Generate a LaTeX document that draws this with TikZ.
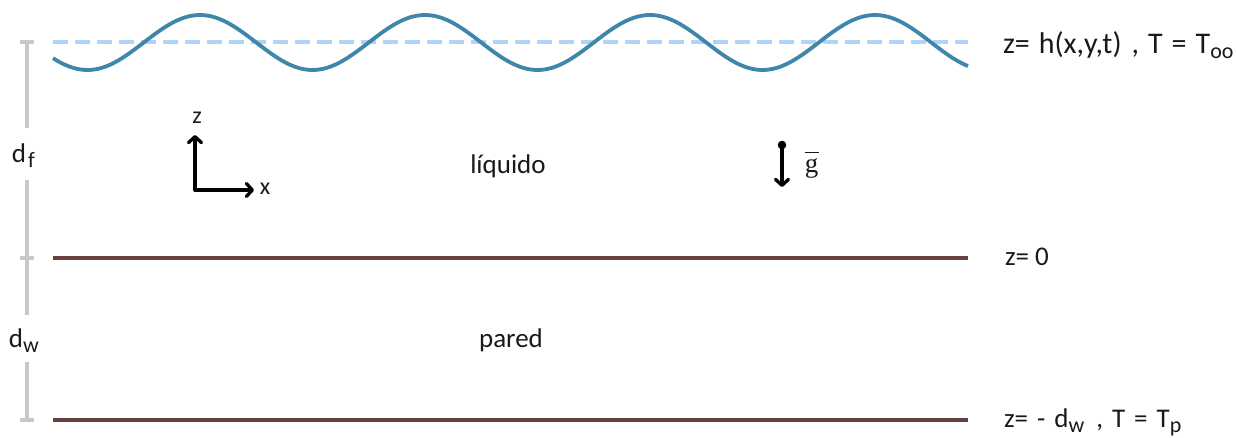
\documentclass[tikz,border=0pt]{standalone}
\usepackage{fontspec}
\setmainfont{Carlito}
\newfontfamily\gserif{Liberation Serif}
\usetikzlibrary{arrows.meta}
\definecolor{wavecol}{RGB}{62,134,170}
\definecolor{dashblue}{RGB}{175,212,248}
\definecolor{wallbrown}{RGB}{105,62,62}
\definecolor{dimgray}{RGB}{200,200,200}
\definecolor{txt}{RGB}{25,25,25}
\newcommand{\lsub}[1]{\raisebox{-5pt}{\fontsize{22}{24}\selectfont #1}}
\begin{document}
\begin{tikzpicture}[x=1pt,y=-1pt,
  lbl/.style={inner sep=0pt,outer sep=0pt,text=txt,font=\fontsize{27}{32}\selectfont},
  biglbl/.style={lbl,font=\fontsize{30}{34}\selectfont},
  axlbl/.style={inner sep=0pt,text=txt,font=\fontsize{24}{28}\selectfont},
  wavestyle/.style={draw=wavecol,line width=3.8pt},
  meanline/.style={draw=dashblue,line width=3.8pt,dash pattern=on 15pt off 7pt},
  wallline/.style={draw=wallbrown,line width=3.8pt},
  dimline/.style={draw=dimgray,line width=3.8pt},
  axarrow/.style={draw=black,line width=3.3pt,line cap=round,line join=round,
    -{Straight Barb[length=6pt,width=13pt,line cap=round,line join=round]}}
]
\useasboundingbox (0,0) rectangle (1236,437);

% free surface and mean level
\draw[meanline] (53,42) coordinate (ml) -- (968,42) coordinate (mr);
\draw[wavestyle] plot[domain=53:968,samples=300,smooth] (\x,{42.5-27.5*cos(1.6*(\x-200))});

% walls
\coordinate (w1l) at (53,258); \coordinate (w1r) at (968,258);
\coordinate (w2l) at (53,420); \coordinate (w2r) at (968,420);
\draw[wallline] (w1l) -- (w1r);
\draw[wallline] (w2l) -- (w2r);

% dimension line
\coordinate (dtop) at (27,42);
\coordinate (dmid) at (27,258);
\coordinate (dbot) at (27,420);
\coordinate (dfa) at (27,128); \coordinate (dfb) at (27,180);
\coordinate (dwa) at (27,315); \coordinate (dwb) at (27,362);
\draw[dimline] (dtop) -- (dfa);
\draw[dimline] (dfb) -- (dmid) -- (dwa);
\draw[dimline] (dwb) -- (dbot);
\draw[dimline] ([xshift=-7pt]dtop) -- ([xshift=7pt]dtop);
\draw[dimline] ([xshift=-7pt]dmid) -- ([xshift=7pt]dmid);
\draw[dimline] ([xshift=-7pt]dbot) -- ([xshift=7pt]dbot);
\node[lbl,anchor=base west] (df) at (12,162) {d\hspace{2pt}\lsub{f}};
\node[lbl,anchor=base west] (dw) at (9,347) {d\lsub{w}};

% axes
\coordinate (o) at (195,190);
\coordinate (zt) at (195,135);
\coordinate (xt) at (254,190);
\draw[axarrow] (o) -- (zt);
\draw[axarrow] (o) -- (xt);
\node[axlbl] (zl) at (197,118) {z};
\node[axlbl] (xl) at (265,189) {x};

% gravity
\coordinate (g0) at (782,145);
\coordinate (g1) at (782,187);
\fill[black] (g0) circle (4.3pt);
\draw[axarrow] (g0) -- (g1);
\node[inner sep=0pt,text=txt,font=\gserif\fontsize{27}{30}\selectfont,anchor=base] (gl) at (811.5,172) {g};
\coordinate (gbl) at (804.5,152.5); \coordinate (gbr) at (818.5,152.5);
\draw[txt,line width=1.4pt] (gbl) -- (gbr);

% region labels
\node[lbl,anchor=base] (liq) at (508,173) {líquido};
\node[lbl,anchor=base] (par) at (511,347) {pared};

% boundary labels
\node[biglbl,anchor=base west] (top) at (1003,53) {\spaceskip=9pt z= h(x,y,t)\hspace{10pt}, T = T\lsub{oo}};
\node[lbl,anchor=base west] (zero) at (1005,265) {z= 0};
\node[lbl,anchor=base west] (bot) at (1004,427) {\spaceskip=9pt z= - d\lsub{w}\hspace{12pt}, T = T\lsub{p}};
\end{tikzpicture}
\end{document}
